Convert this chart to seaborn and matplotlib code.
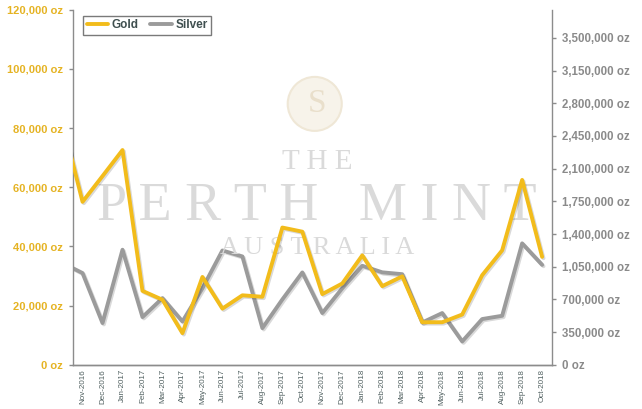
import matplotlib
matplotlib.use("Agg")
import matplotlib.pyplot as plt
import matplotlib.patheffects as pe
from matplotlib.patches import Ellipse
import pandas as pd
import seaborn as sns

# monthly sales; first month sits just outside the visible window
months = ["Oct-2016", "Nov-2016", "Dec-2016", "Jan-2017", "Feb-2017", "Mar-2017", "Apr-2017",
          "May-2017", "Jun-2017", "Jul-2017", "Aug-2017", "Sep-2017", "Oct-2017", "Nov-2017",
          "Dec-2017", "Jan-2018", "Feb-2018", "Mar-2018", "Apr-2018", "May-2018", "Jun-2018",
          "Jul-2018", "Aug-2018", "Sep-2018", "Oct-2018"]
gold_oz = [82000, 55100, 63800, 72600, 25000, 22000, 10700, 29700, 19000, 23500, 23000, 46400,
           45000, 23900, 27500, 37000, 26600, 29900, 14400, 14400, 17000, 30300, 38700, 62500, 36500]
silver_oz = [1090000, 982000, 447000, 1232000, 511000, 714000, 464000, 820000, 1224000, 1160000,
             393000, 700000, 989000, 554000, 820000, 1060000, 990000, 970000, 453000, 554000,
             250000, 490000, 525000, 1300000, 1070000]

gold_ticks = [0, 20000, 40000, 60000, 80000, 100000, 120000]
silver_ticks = [0, 350000, 700000, 1050000, 1400000, 1750000, 2100000, 2450000, 2800000,
                3150000, 3500000]

df = pd.DataFrame({"pos": range(len(months)), "month": months,
                   "Gold": gold_oz, "Silver": silver_oz})

GOLD = "#F2BC1B"
SILVER = "#9B9B9B"
AXIS = "#8C8C8C"

sns.set_style("white")
plt.rcParams["font.family"] = ["Liberation Sans", "DejaVu Sans"]

fig, ax = plt.subplots(figsize=(6.42, 4.09), dpi=100)
fig.subplots_adjust(left=0.113, right=0.86, top=0.976, bottom=0.108)
ax2 = ax.twinx()

# watermark
wm = dict(color="#DADADA", family="Liberation Serif", ha="center", va="center", zorder=0)
ax.text(0.51, 0.57, "T H E", transform=ax.transAxes, fontsize=21, **wm)
ax.text(0.51, 0.445, "P E R T H   M I N T", transform=ax.transAxes, fontsize=39, **wm)
ax.text(0.51, 0.33, "A U S T R A L I A", transform=ax.transAxes, fontsize=19, **wm)
ax.add_patch(Ellipse((0.505, 0.735), 54 / 479, 54 / 355, transform=ax.transAxes,
                     facecolor="#F7F3EA", edgecolor="#EFE7D6", lw=1.5, zorder=0))
ax.text(0.51, 0.735, "S", transform=ax.transAxes, fontsize=24, color="#E9DFCB",
        family="Liberation Serif", ha="center", va="center", zorder=0)

shadow = [pe.SimpleLineShadow(offset=(1, -1), alpha=0.15), pe.Normal()]
sns.lineplot(data=df, x="pos", y="Gold", ax=ax, color=GOLD, lw=2.8, label="Gold",
             legend=False, zorder=3, path_effects=shadow)
sns.lineplot(data=df, x="pos", y="Silver", ax=ax2, color=SILVER, lw=2.8, label="Silver",
             legend=False, zorder=2, path_effects=shadow)

ax.set_zorder(ax2.get_zorder() + 1)
ax.patch.set_visible(False)

ax.set_xlim(0.5, len(months) - 0.5)
ax.set_ylim(0, 120000)
ax2.set_ylim(0, 3800000)
ax.set_xticks(df["pos"][1:])
ax.set_xticklabels(df["month"][1:], rotation=90, fontsize=5.8, color="#4F5F5F")
ax.set_yticks(gold_ticks)
ax.set_yticklabels([f"{v:,} oz" for v in gold_ticks], fontsize=8, color="#E5B323",
                   fontweight="bold")
ax2.set_yticks(silver_ticks)
ax2.set_yticklabels([f"{v:,} oz" for v in silver_ticks], fontsize=8.3, color="#8A8A8A",
                    fontweight="bold")
ax.set_xlabel("")
ax.set_ylabel("")
ax2.set_ylabel("")

for a in (ax, ax2):
    for s in a.spines.values():
        s.set_color(AXIS)
        s.set_linewidth(1)
    a.spines["top"].set_visible(False)
    a.tick_params(axis="y", length=3, width=1, color=AXIS, pad=4)
ax.tick_params(axis="x", length=0, pad=3)
ax2.spines["left"].set_visible(False)
ax.spines["right"].set_visible(False)

h1, l1 = ax.get_legend_handles_labels()
h2, l2 = ax2.get_legend_handles_labels()
leg = ax.legend(h1 + h2, l1 + l2, loc="upper left", bbox_to_anchor=(0.01, 1.0), ncol=2,
                frameon=True, fancybox=False, handlelength=1.8, handletextpad=0.3,
                columnspacing=1.0, borderpad=0.3,
                prop={"size": 8.5, "weight": "bold"})
leg.get_frame().set_edgecolor("#595959")
leg.get_frame().set_linewidth(1)
for t in leg.get_texts():
    t.set_color("#3F4F4F")
for ln in leg.get_lines():
    ln.set_path_effects([])

fig.savefig("out.png", dpi=100)
